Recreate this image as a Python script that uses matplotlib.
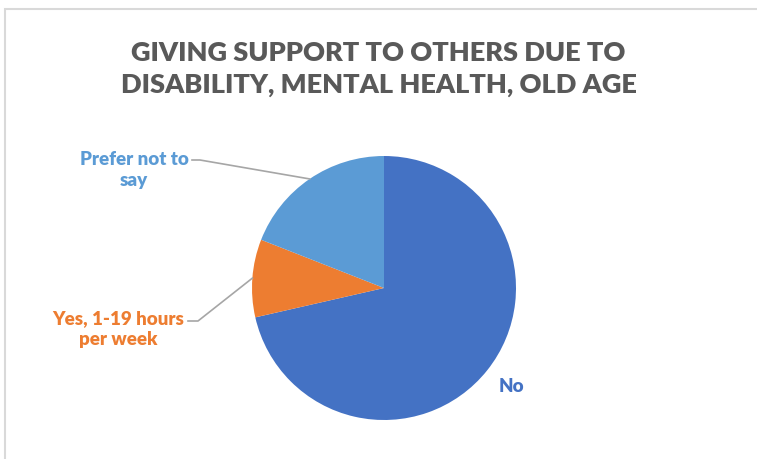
import numpy as np
import matplotlib
matplotlib.use("Agg")
import matplotlib.pyplot as plt
from matplotlib.patches import Rectangle

plt.rcParams['font.family'] = ['Lato', 'DejaVu Sans']

# data (order as drawn clockwise from 12 o'clock)
labels = ['No', 'Yes, 1-19 hours\nper week', 'Prefer not to\nsay']
counts = [15, 2, 4]
colors = ['#4472C4', '#ED7D31', '#5B9BD5']

title = 'GIVING SUPPORT TO OTHERS DUE TO\nDISABILITY, MENTAL HEALTH, OLD AGE'

W, H = 757, 459
fig = plt.figure(figsize=(W / 100, H / 100), dpi=100)

# light chart border
fig.patches.append(Rectangle((5 / W, -0.01), 1.02, (H - 9) / H + 0.01,
                             transform=fig.transFigure, fill=False,
                             edgecolor='#d9d9d9', linewidth=1.5))

cx, cy, r = 384, 288, 132
ax = fig.add_axes([(cx - r) / W, (H - cy - r) / H, 2 * r / W, 2 * r / H])
wedges, _ = ax.pie(counts, colors=colors, startangle=90, counterclock=False,
                   radius=1, wedgeprops=dict(linewidth=0))
ax.set_xlim(-1, 1)
ax.set_ylim(-1, 1)
ax.axis('off')

fig.text(0.5, (H - 69) / H, title, ha='center', va='center', fontsize=19.5,
         fontweight='heavy', color='#595959', linespacing=1.4)

def px(x, y):
    return (x / W, (H - y) / H)

# "No" sits beside the slice without a leader
fig.text(*px(511, 387), labels[0], ha='center', va='center', fontsize=13.5,
         fontweight='heavy', color=colors[0])

label_pos = {1: ((118, 329), (188, 321), (198, 321)),
             2: ((134, 170), (192, 160), (200, 160))}
for i, (tpos, e0, e1) in label_pos.items():
    w = wedges[i]
    ang = np.deg2rad((w.theta1 + w.theta2) / 2)
    ex = cx + r * np.cos(ang)
    ey = cy - r * np.sin(ang)
    fig.text(*px(*tpos), labels[i], ha='center', va='center', fontsize=13.5,
             fontweight='heavy', color=colors[i], linespacing=1.3)
    xs = [e0[0], e1[0], ex]
    ys = [e0[1], e1[1], ey]
    fig.add_artist(plt.Line2D([x / W for x in xs], [(H - y) / H for y in ys],
                              color='#a6a6a6', linewidth=1.2))

fig.savefig('out.png', dpi=100)
